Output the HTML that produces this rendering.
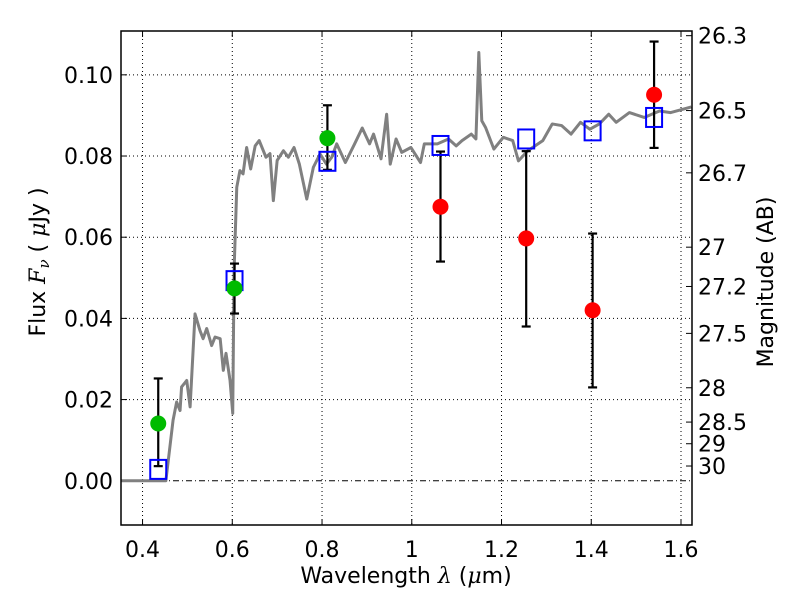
<!DOCTYPE html>
<html><head><meta charset="utf-8"><style>
body{margin:0;background:#fff;}
svg text{font-family:"DejaVu Sans","Liberation Sans",sans-serif;fill:#000;}
</style></head><body>
<svg id="chart" width="800" height="600" xmlns="http://www.w3.org/2000/svg"></svg>
<script>
const xTicks=[0.4,0.6,0.8,1.0,1.2,1.4,1.6];
const xTickLabels=["0.4","0.6","0.8","1","1.2","1.4","1.6"];
const yTicks=[0,0.02,0.04,0.06,0.08,0.10];
const yTickLabels=["0.00","0.02","0.04","0.06","0.08","0.10"];
const magTicks=[26.3,26.5,26.7,27,27.2,27.5,28,28.5,29,30];
const specWave=[0.352,0.452,0.468,0.476,0.4836,0.487,0.4985,0.506,0.517,0.528,0.535,0.543,0.554,0.5616,0.573,0.58,0.586,0.595,0.601,0.604,0.61,0.617,0.624,0.632,0.641,0.651,0.66,0.675,0.684,0.6915,0.7,0.714,0.725,0.7376,0.7495,0.766,0.7806,0.7955,0.81,0.8216,0.8327,0.852,0.8727,0.8896,0.906,0.9148,0.9315,0.944,0.952,0.965,0.9776,0.998,1.0195,1.028,1.057,1.082,1.099,1.112,1.1327,1.143,1.1494,1.156,1.1646,1.183,1.204,1.225,1.2377,1.2586,1.292,1.313,1.334,1.355,1.376,1.397,1.418,1.439,1.4556,1.485,1.518,1.552,1.577,1.623];
const specFlux=[0,0,0.0149,0.0194,0.0173,0.0231,0.0247,0.0182,0.0411,0.037,0.035,0.0375,0.0333,0.0354,0.035,0.0272,0.0314,0.0247,0.0166,0.0518,0.0723,0.0764,0.0756,0.0821,0.0768,0.0825,0.0838,0.0797,0.0806,0.069,0.0789,0.0813,0.0797,0.0821,0.078,0.0694,0.0772,0.0805,0.078,0.0797,0.083,0.0784,0.083,0.0869,0.083,0.0854,0.0793,0.0903,0.078,0.0842,0.0809,0.0821,0.0784,0.083,0.083,0.0842,0.0825,0.0838,0.0854,0.0842,0.1055,0.0887,0.087,0.0817,0.0846,0.0838,0.0788,0.0813,0.0838,0.0879,0.0875,0.0854,0.0883,0.0866,0.0879,0.0903,0.0883,0.0907,0.0895,0.0911,0.0907,0.0921];
const modelWave=[0.435,0.605,0.812,1.064,1.255,1.403,1.54];
const modelFlux=[0.0028,0.0493,0.0787,0.0826,0.0842,0.0862,0.0895];
const greenWave=[0.435,0.605,0.812];
const greenFlux=[0.0141,0.0474,0.0844];
const greenLo=[0.0036,0.0412,0.0766];
const greenHi=[0.0252,0.0535,0.0925];
const redWave=[1.064,1.255,1.403,1.54];
const redFlux=[0.0675,0.0597,0.042,0.0951];
const redLo=[0.054,0.038,0.023,0.082];
const redHi=[0.0811,0.0812,0.0609,0.1082];

const L=121,R=692,T=31,B=525;
const xMin=0.352,xMax=1.6245,yMin=-0.0109,yMax=0.1108;
const sx=v=>L+(v-xMin)/(xMax-xMin)*(R-L);
const sy=v=>B-(v-yMin)/(yMax-yMin)*(B-T);
const svg=document.getElementById('chart');
const NS='http://www.w3.org/2000/svg';
function mk(tag,attrs,parent){const e=document.createElementNS(NS,tag);for(const k in attrs)e.setAttribute(k,attrs[k]);(parent||svg).appendChild(e);return e;}

xTicks.forEach((t,i)=>{
 const g=mk('line',{x1:sx(t),x2:sx(t),y1:T,y2:B,stroke:'#000','stroke-width':1,'stroke-dasharray':'1,3'});
 
 
 const tk=mk('line',{x1:sx(t),x2:sx(t),y1:B,y2:B-6,stroke:'#000'});
 
 
 mk('line',{x1:sx(t),x2:sx(t),y1:T,y2:T+6,stroke:'#000'});
 const lb=mk('text',{x:sx(t),y:B+32,'text-anchor':'middle','font-size':22});
 lb.textContent=xTickLabels[i];
 
 
});
yTicks.forEach((t,i)=>{
 const g=mk('line',{x1:L,x2:R,y1:sy(t),y2:sy(t),stroke:'#000','stroke-width':1,'stroke-dasharray':t===0?'6,3,1,3':'1,3'});
 
 
 mk('line',{x1:L,x2:L+6,y1:sy(t),y2:sy(t),stroke:'#000'});
 const lb=mk('text',{x:L-8,y:sy(t)+8,'text-anchor':'end','font-size':22});
 lb.textContent=yTickLabels[i];
 
 
});
magTicks.forEach(m=>{
 const f=Math.pow(10,(23.9-m)/2.5);
 const tk=mk('line',{x1:R,x2:R-6,y1:sy(f),y2:sy(f),stroke:'#000'});
 
 
 const lb=mk('text',{x:R+6,y:sy(f)+8,'font-size':22});
 lb.textContent=String(m);
 
 
});

const sp=mk('polyline',{points:specWave.map((w,i)=>sx(w)+','+sy(specFlux[i])).join(' '),fill:'none',stroke:'#808080','stroke-width':3,'stroke-linejoin':'round'});



function errbars(ws,lo,hi,name){ws.forEach((w,i)=>{
 const g=mk('g',{stroke:'#000','stroke-width':2.2});
 
 
 mk('line',{x1:sx(w),x2:sx(w),y1:sy(lo[i]),y2:sy(hi[i])},g);
 mk('line',{x1:sx(w)-4.5,x2:sx(w)+4.5,y1:sy(lo[i]),y2:sy(lo[i])},g);
 mk('line',{x1:sx(w)-4.5,x2:sx(w)+4.5,y1:sy(hi[i]),y2:sy(hi[i])},g);
});}
errbars(greenWave,greenLo,greenHi,'detection-errorbar');
errbars(redWave,redLo,redHi,'upper-errorbar');

modelWave.forEach((w,i)=>{
 const s=mk('rect',{x:sx(w)-8,y:sy(modelFlux[i])-9.5,width:16,height:19,fill:'none',stroke:'#0000ff','stroke-width':2});
 
 
});
greenWave.forEach((w,i)=>{
 const c=mk('circle',{cx:sx(w),cy:sy(greenFlux[i]),r:8,fill:'#00bb00'});
 
 
});
redWave.forEach((w,i)=>{
 const c=mk('circle',{cx:sx(w),cy:sy(redFlux[i]),r:8,fill:'#ff0000'});
 
 
});

const fr=mk('rect',{x:L,y:T,width:R-L,height:B-T,fill:'none',stroke:'#000','stroke-width':1.5});



const xl=mk('text',{x:406,y:583,'text-anchor':'middle','font-size':22});
xl.innerHTML='Wavelength  <tspan font-family="DejaVu Serif" font-style="italic">λ</tspan> (<tspan font-family="DejaVu Serif" font-style="italic">μ</tspan>m)';


const yl=mk('text',{x:0,y:0,'text-anchor':'middle','font-size':22,transform:'translate(45,262) rotate(-90)'});
yl.innerHTML='Flux  <tspan font-family="DejaVu Serif" font-style="italic">F</tspan><tspan font-family="DejaVu Serif" font-style="italic" font-size="15" dy="4">ν</tspan><tspan dy="-4">  (  </tspan><tspan font-family="DejaVu Serif" font-style="italic">μ</tspan>Jy )';


const ml=mk('text',{x:0,y:0,'text-anchor':'middle','font-size':22,transform:'translate(773,282) rotate(-90)'});
ml.textContent='Magnitude (AB)';


</script>
</body></html>
